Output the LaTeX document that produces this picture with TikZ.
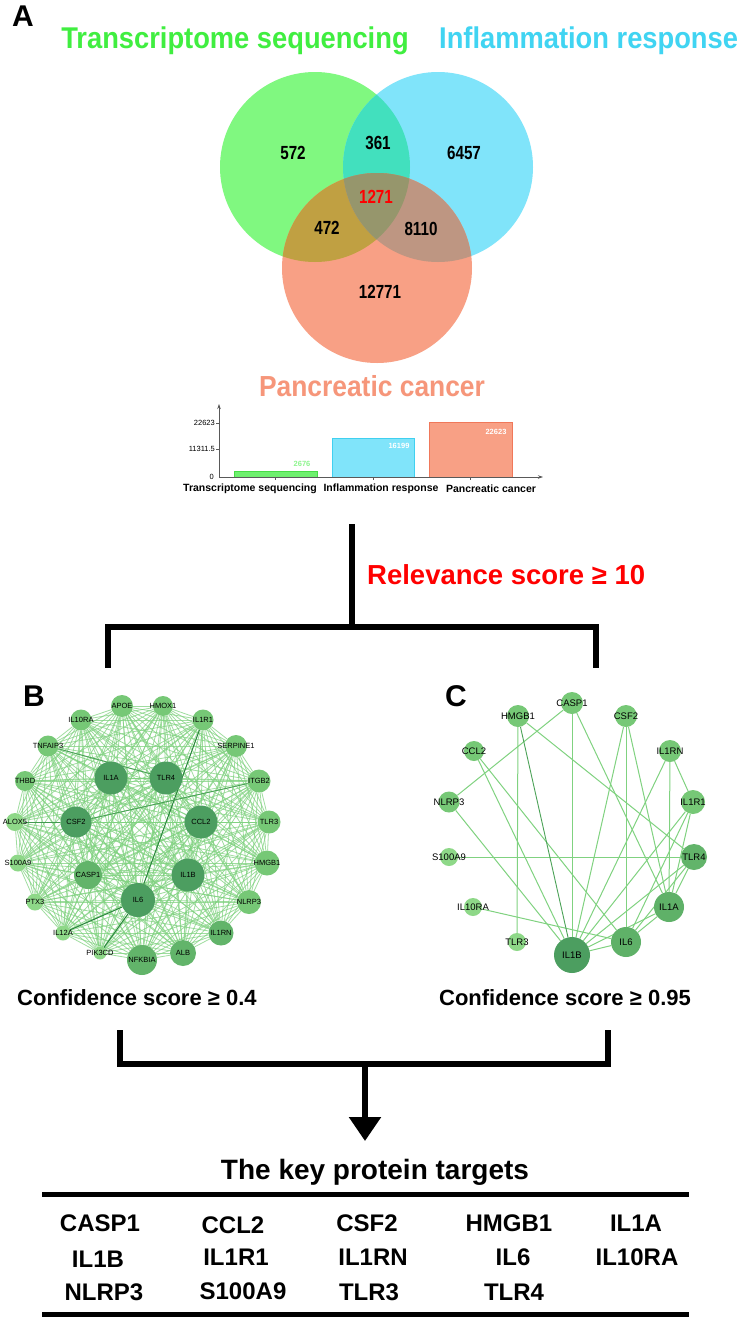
\documentclass[tikz,border=0pt]{standalone}
\usepackage{fontspec}
\setmainfont{Liberation Sans}
\newfontfamily\narrowtitle[FakeStretch=0.91]{Liberation Sans}
\newfontfamily\narrownum[FakeStretch=0.8]{Liberation Sans}
\usetikzlibrary{arrows.meta}
\pgfdeclarelayer{bg}
\pgfsetlayers{bg,main}
\definecolor{tgreen}{RGB}{64,238,64}
\definecolor{tblue}{RGB}{64,212,242}
\definecolor{tsalmon}{RGB}{246,150,122}
\definecolor{vg}{RGB}{128,248,128}
\definecolor{vb}{RGB}{128,228,250}
\definecolor{vs}{RGB}{248,160,133}
\definecolor{vgb}{RGB}{66,224,190}
\definecolor{vgs}{RGB}{192,160,66}
\definecolor{vbs}{RGB}{190,150,130}
\definecolor{vgbs}{RGB}{150,150,108}
\definecolor{ndark}{RGB}{76,158,96}
\definecolor{nmid}{RGB}{98,180,106}
\definecolor{nlight}{RGB}{118,200,118}
\definecolor{npale}{RGB}{142,216,136}
\definecolor{edgec}{RGB}{128,210,128}
\definecolor{edged}{RGB}{40,130,60}
\definecolor{barg}{RGB}{110,240,110}
\definecolor{bargl}{RGB}{70,220,70}
\definecolor{barb}{RGB}{128,228,250}
\definecolor{barbl}{RGB}{64,208,240}
\definecolor{bars}{RGB}{248,160,133}
\definecolor{barsl}{RGB}{240,120,90}
\tikzset{
  x=1pt, y=-1pt,
  panel/.style={font=\bfseries\fontsize{30}{30}\selectfont, inner sep=0pt},
  vtitle/.style={font=\narrowtitle\bfseries\fontsize{30}{30}\selectfont, inner sep=0pt},
  vnum/.style={font=\narrownum\bfseries\fontsize{19}{19}\selectfont, inner sep=0pt},
  ticklab/.style={font=\fontsize{7.5}{7.5}\selectfont, inner sep=0pt, anchor=east},
  barval/.style={font=\bfseries\fontsize{7.5}{7.5}\selectfont, inner sep=0pt},
  catlab/.style={font=\bfseries\fontsize{10.5}{10.5}\selectfont, inner sep=0pt},
  flow/.style={line width=5.5pt, black},
  crit/.style={font=\bfseries\fontsize{22}{22}\selectfont, inner sep=0pt},
  bn/.style={circle, inner sep=0pt, minimum size=#1},
  blab/.style={font=\fontsize{7.5}{7.5}\selectfont, inner sep=0pt},
  clab/.style={font=\fontsize{9.5}{9.5}\selectfont, inner sep=0pt},
  bedge/.style={edgec, line width=0.8pt, opacity=0.75},
  cedge/.style={edgec, line width=1pt},
  dedge/.style={edged, line width=0.9pt},
  key/.style={font=\bfseries\fontsize{24}{24}\selectfont, inner sep=0pt},
}
\newcommand{\bnode}[5]{\node[bn=#1, fill=#2, label={[blab]center:#5}] (b-#5) at (#3,#4) {};}
\newcommand{\cnode}[5]{\node[bn=#1, fill=#2, label={[clab]center:#5}] (c-#5) at (#3,#4) {};}
\begin{document}
\begin{tikzpicture}
\useasboundingbox (0,0) rectangle (740,1320);
\begin{pgfonlayer}{bg}
\fill[white] (0,0) rectangle (740,1320);
\end{pgfonlayer}

% ---------- Panel A ----------
\node[panel] (lA) at (23,16) {A};
\node[vtitle, text=tgreen] (t1) at (235,41) {Transcriptome sequencing};
\node[vtitle, text=tblue, anchor=west] (t2) at (439,41) {Inflammation response};

\fill[vg] (315,167) circle[radius=95pt];
\fill[vb] (438,167) circle[radius=95pt];
\fill[vs] (377,268) circle[radius=95pt];
\begin{scope}
  \clip (315,167) circle[radius=95pt];
  \fill[vgb] (438,167) circle[radius=95pt];
  \fill[vgs] (377,268) circle[radius=95pt];
\end{scope}
\begin{scope}
  \clip (438,167) circle[radius=95pt];
  \fill[vbs] (377,268) circle[radius=95pt];
\end{scope}
\begin{scope}
  \clip (315,167) circle[radius=95pt];
  \clip (438,167) circle[radius=95pt];
  \fill[vgbs] (377,268) circle[radius=95pt];
\end{scope}
\node[vnum] (n572) at (293,153) {572};
\node[vnum] (n361) at (378,143) {361};
\node[vnum] (n6457) at (464,153) {6457};
\node[vnum, text=red] (n1271) at (376,197) {1271};
\node[vnum] (n472) at (327,228) {472};
\node[vnum] (n8110) at (421,229) {8110};
\node[vnum] (n12771) at (380,292) {12771};
\node[vtitle, text=tsalmon, font=\narrowtitle\bfseries\fontsize{29}{29}\selectfont] (t3) at (372,386) {Pancreatic cancer};

% bar chart
\fill[barg] (234,471) rectangle (317,477);
\draw[bargl, line width=0.8pt] (234,477) -- (234,471) -- (317,471) -- (317,477);
\fill[barb] (332,438) rectangle (414,477);
\draw[barbl, line width=0.8pt] (332,477) -- (332,438) -- (414,438) -- (414,477);
\fill[bars] (429,422) rectangle (512,477);
\draw[barsl, line width=0.8pt] (429,477) -- (429,422) -- (512,422) -- (512,477);
\coordinate (ax0) at (219,477);
\coordinate (axy) at (219,404);
\coordinate (axx) at (543,477);
\draw[gray!70!black, line width=0.8pt, -{Stealth[length=5pt,width=3.5pt]}] (ax0) -- (axy);
\draw[gray!70!black, line width=0.8pt, -{Stealth[length=5pt,width=3.5pt]}] (ax0) -- (axx);
\foreach \yy in {423,449} \draw[gray!70!black, line width=0.6pt] (216,\yy) -- (219,\yy);
\foreach \xx in {275,373,470} \draw[gray!70!black, line width=0.6pt] (\xx,477) -- (\xx,480);
\node[ticklab] (y1) at (215,423) {22623};
\node[ticklab] (y2) at (215,449) {11311.5};
\node[ticklab] (y3) at (214,477) {0};
\node[barval, text=tgreen!60] (v1) at (302,464) {2676};
\node[barval, text=white] (v2) at (399,446) {16199};
\node[barval, text=white] (v3) at (496,432) {22623};
\node[catlab] (c1) at (250,489) {Transcriptome sequencing};
\node[catlab] (c2) at (381,489) {Inflammation response};
\node[catlab] (c3) at (491,489) {Pancreatic cancer};

% ---------- flow (top) ----------
\coordinate (f0) at (352,524);
\coordinate (f1) at (352,627);
\coordinate (fl) at (105.25,627);
\coordinate (fr) at (598.75,627);
\coordinate (fl1) at (108,627);
\coordinate (fl2) at (108,668);
\coordinate (fr1) at (596,627);
\coordinate (fr2) at (596,668);
\draw[flow] (f0) -- (f1);
\draw[flow] (fl) -- (fr);
\draw[flow] (fl1) -- (fl2);
\draw[flow] (fr1) -- (fr2);
\node[font=\bfseries\fontsize{27.5}{27.5}\selectfont, text=red, anchor=west, inner sep=0pt] (rel) at (367,575) {Relevance score ≥ 10};

% ---------- Panel B ----------
\node[panel] (lB) at (34,696) {B};
\bnode{33pt}{ndark}{111}{778}{IL1A}
\bnode{33pt}{ndark}{166}{778}{TLR4}
\bnode{31pt}{ndark}{76}{822}{CSF2}
\bnode{33pt}{ndark}{201}{822}{CCL2}
\bnode{33pt}{ndark}{188}{875}{IL1B}
\bnode{34pt}{ndark}{138}{900}{IL6}
\bnode{28pt}{nmid}{88}{875}{CASP1}
\bnode{30pt}{nmid}{142}{960}{NFKBIA}
\bnode{26pt}{nmid}{183}{953}{ALB}
\bnode{25pt}{nmid}{221}{933}{IL1RN}
\bnode{24pt}{nlight}{249}{902}{NLRP3}
\bnode{25pt}{nlight}{267}{863}{HMGB1}
\bnode{23pt}{nlight}{269}{822}{TLR3}
\bnode{23pt}{nlight}{259}{781}{ITGB2}
\bnode{22pt}{nlight}{236}{746}{SERPINE1}
\bnode{21pt}{nlight}{203}{720}{IL1R1}
\bnode{20pt}{nlight}{163}{706}{HMOX1}
\bnode{22pt}{nlight}{122}{706}{APOE}
\bnode{21pt}{nlight}{81}{720}{IL10RA}
\bnode{21pt}{nlight}{48}{746}{TNFAIP3}
\bnode{20pt}{nlight}{25}{781}{THBD}
\bnode{18pt}{npale}{15}{822}{ALOX5}
\bnode{17pt}{npale}{18}{863}{S100A9}
\bnode{17pt}{npale}{35}{902}{PTX3}
\bnode{15pt}{npale}{63}{933}{IL12A}
\bnode{13pt}{npale}{100}{953}{PIK3CD}
\begin{pgfonlayer}{bg}
\foreach \a [count=\i] in {IL1A,TLR4,CSF2,CCL2,IL1B,IL6,CASP1,NFKBIA,ALB,IL1RN,NLRP3,HMGB1,TLR3,ITGB2,SERPINE1,IL1R1,HMOX1,APOE,IL10RA,TNFAIP3,THBD,ALOX5,S100A9,PTX3,IL12A,PIK3CD}{
  \foreach \b [count=\j] in {IL1A,TLR4,CSF2,CCL2,IL1B,IL6,CASP1,NFKBIA,ALB,IL1RN,NLRP3,HMGB1,TLR3,ITGB2,SERPINE1,IL1R1,HMOX1,APOE,IL10RA,TNFAIP3,THBD,ALOX5,S100A9,PTX3,IL12A,PIK3CD}{
    \ifnum\j>\i \draw[bedge] (b-\a) -- (b-\b); \fi
  }
}
\draw[dedge] (b-IL1R1) -- (b-IL6);
\draw[dedge] (b-IL6) -- (b-PIK3CD);
\draw[dedge] (b-IL6) -- (b-IL12A);
\draw[dedge, edged!70!edgec] (b-ALOX5) -- (b-CSF2);
\draw[dedge, edged!60!edgec] (b-TNFAIP3) -- (b-TLR4);
\draw[dedge, edged!60!edgec] (b-ITGB2) -- (b-CSF2);
\end{pgfonlayer}
\node[crit, anchor=west] (cB) at (17,998) {Confidence score ≥ 0.4};

% ---------- Panel C ----------
\node[panel] (lC) at (456,696) {C};
\cnode{22pt}{nlight}{572}{703}{CASP1}
\cnode{22pt}{nlight}{518}{716}{HMGB1}
\cnode{22pt}{nlight}{626}{716}{CSF2}
\cnode{20pt}{nlight}{474}{751}{CCL2}
\cnode{22pt}{nlight}{670}{751}{IL1RN}
\cnode{21pt}{nlight}{449}{802}{NLRP3}
\cnode{24pt}{nlight}{693}{802}{IL1R1}
\cnode{18pt}{npale}{449}{857}{S100A9}
\cnode{26pt}{nmid}{694}{857}{TLR4}
\cnode{18pt}{npale}{473}{907}{IL10RA}
\cnode{30pt}{nmid!85!ndark}{669}{907}{IL1A}
\cnode{18pt}{npale}{517}{942}{TLR3}
\cnode{30pt}{nmid!85!ndark}{626}{942}{IL6}
\cnode{36pt}{ndark}{572}{955}{IL1B}
\begin{pgfonlayer}{bg}
\foreach \a/\b in {CASP1/NLRP3, CASP1/IL1B, CASP1/IL1A, HMGB1/TLR3, HMGB1/TLR4,
  CSF2/IL6, CSF2/IL1B, CSF2/IL1A, CCL2/IL1B, CCL2/IL6, NLRP3/IL1B,
  IL1RN/IL1A, IL1RN/IL1R1, IL1RN/IL1B, IL1R1/IL1B, IL1R1/IL1A, IL1R1/IL6,
  S100A9/TLR4, TLR4/IL1B, TLR4/IL6, TLR4/IL1A, IL10RA/IL6, IL1A/IL1B, IL1A/IL6, IL6/IL1B}
  \draw[cedge] (c-\a) -- (c-\b);
\draw[dedge, edged!60!edgec] (c-HMGB1) -- (c-IL1B);
\end{pgfonlayer}
\node[crit] (cC) at (565,998) {Confidence score ≥ 0.95};

% ---------- flow (bottom) ----------
\coordinate (g1) at (120,1033);
\coordinate (g2) at (120,1064);
\coordinate (g3) at (608,1064);
\coordinate (g4) at (608,1033);
\coordinate (g5) at (365,1064);
\coordinate (g6) at (365,1141);
\draw[flow, line cap=rect] (g1) -- (g2) -- (g3) -- (g4);
\draw[flow, -{Triangle[length=24pt,width=31pt]}] (g5) -- (g6);

% ---------- key targets ----------
\node[font=\bfseries\fontsize{28}{28}\selectfont, inner sep=0pt] (kt) at (375,1172) {The key protein targets};
\coordinate (r1a) at (42,1194);
\coordinate (r1b) at (689,1194);
\coordinate (r2a) at (42,1314);
\coordinate (r2b) at (689,1314);
\draw[line width=5pt] (r1a) -- (r1b);
\draw[line width=5pt] (r2a) -- (r2b);
\node[key] (k1) at (100,1223) {CASP1};
\node[key] (k2) at (233,1225) {CCL2};
\node[key] (k3) at (367,1223) {CSF2};
\node[key] (k4) at (509,1223) {HMGB1};
\node[key] (k5) at (636,1223) {IL1A};
\node[key] (k6) at (98,1259) {IL1B};
\node[key] (k7) at (236,1257) {IL1R1};
\node[key] (k8) at (373,1257) {IL1RN};
\node[key] (k9) at (513,1257) {IL6};
\node[key] (k10) at (637,1257) {IL10RA};
\node[key] (k11) at (104,1292) {NLRP3};
\node[key] (k12) at (243,1291) {S100A9};
\node[key] (k13) at (369,1292) {TLR3};
\node[key] (k14) at (514,1292) {TLR4};
\end{tikzpicture}
\end{document}
